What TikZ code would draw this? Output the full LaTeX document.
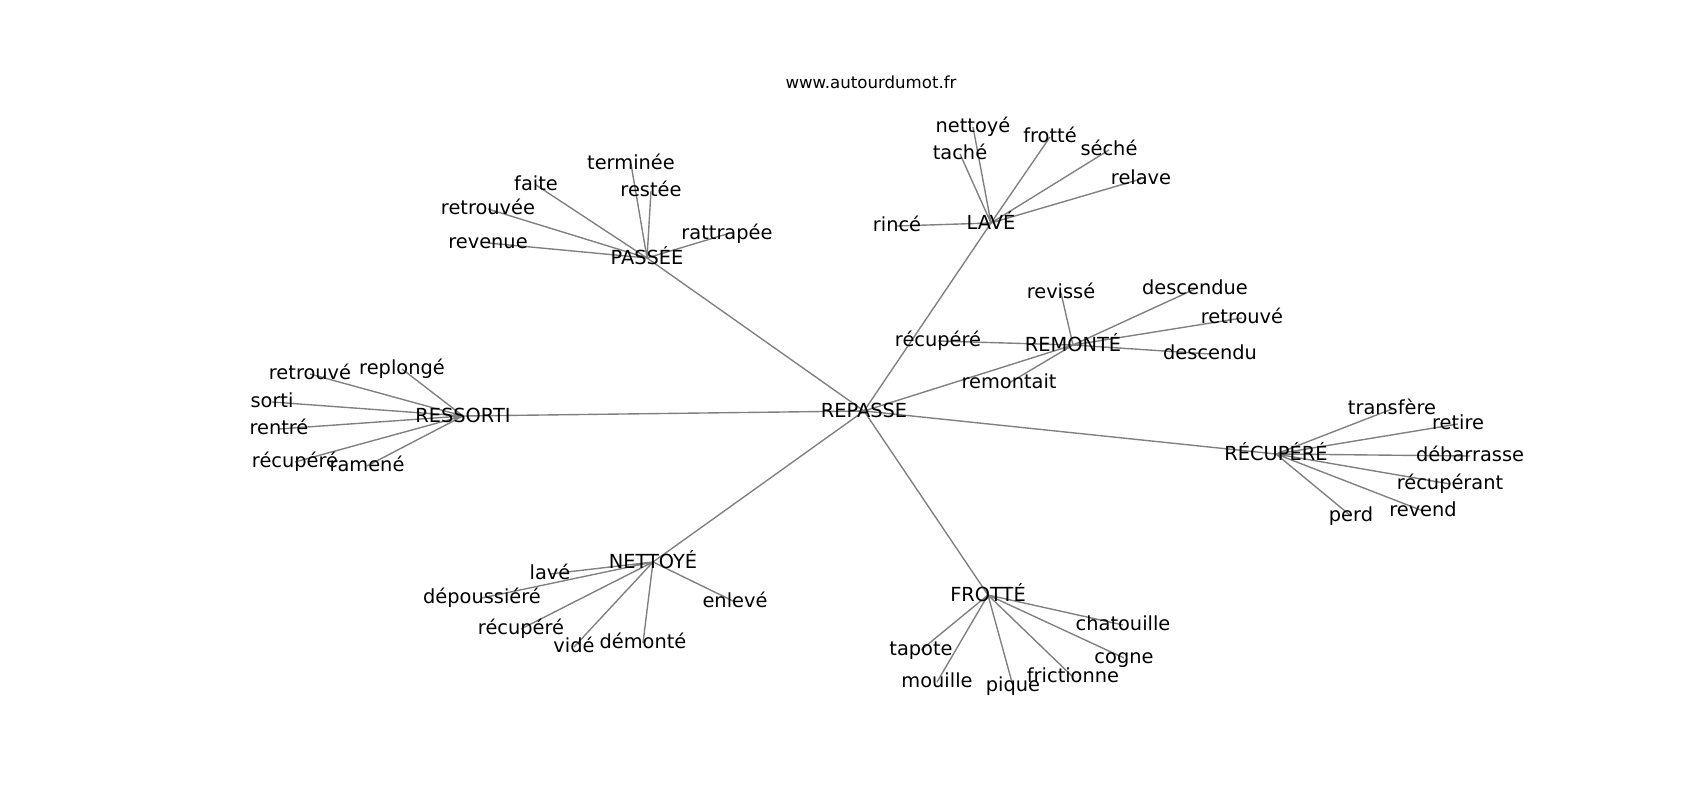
\documentclass[tikz,border=0pt]{standalone}
\usepackage{fontspec}
\setmainfont{DejaVu Sans}
\usetikzlibrary{backgrounds}

\tikzset{
	word/.style={inner sep=0pt,font=\fontsize{14}{16}\selectfont,text height=10.6pt,text depth=3.3pt},
	hub/.style={word,text height=13.2pt},
	edge/.style={draw=gray,line width=1pt}
}

\begin{document}
\begin{tikzpicture}[x=0.01in,y=-0.01in]
	\useasboundingbox (0,-2) rectangle (1700,798);
	\node[anchor=base,font=\fontsize{12}{14}\selectfont] (site) at (871,87) {www.autourdumot.fr};

	% centre
	\node[hub] (repasse) at (864,409) {REPASSE};
	\node[hub] (passee) at (647,256) {PASSÉE};
	\node[hub] (lave) at (991,221) {LAVÉ};
	\node[hub] (remonte) at (1073,343) {REMONTÉ};
	\node[hub] (recupere) at (1276,452) {RÉCUPÉRÉ};
	\node[hub] (ressorti) at (463,414) {RESSORTI};
	\node[hub] (nettoye) at (653,560) {NETTOYÉ};
	\node[hub] (frotte) at (988,593) {FROTTÉ};

	% PASSÉE
	\node[word] (pasterminee) at (631,162) {terminée};
	\node[word] (pasrestee) at (651,189) {restée};
	\node[word] (pasfaite) at (536,183) {faite};
	\node[word] (pasretrouvee) at (488,207) {retrouvée};
	\node[word] (pasrevenue) at (488,241) {revenue};
	\node[word] (pasrattrapee) at (727,232) {rattrapée};

	% LAVÉ
	\node[word] (lavnettoye) at (973,125) {nettoyé};
	\node[word] (lavtache) at (960,152) {taché};
	\node[word] (lavfrotte) at (1050,135) {frotté};
	\node[word] (lavseche) at (1109,148) {séché};
	\node[word] (lavrelave) at (1141,177) {relave};
	\node[word] (lavrince) at (897,224) {rincé};

	% REMONTÉ
	\node[word] (remrevisse) at (1061,291) {revissé};
	\node[word] (remdescendue) at (1195,287) {descendue};
	\node[word] (remretrouve) at (1242,316) {retrouvé};
	\node[word] (remdescendu) at (1210,352) {descendu};
	\node[word] (remrecupere) at (938,339) {récupéré};
	\node[word] (remremontait) at (1009,381) {remontait};

	% RÉCUPÉRÉ
	\node[word] (rectransfere) at (1392,407) {transfère};
	\node[word] (recretire) at (1458,422) {retire};
	\node[word] (recdebarrasse) at (1470,454) {débarrasse};
	\node[word] (recrecuperant) at (1450,482) {récupérant};
	\node[word] (recrevend) at (1423,509) {revend};
	\node[word] (recperd) at (1351,514) {perd};

	% RESSORTI
	\node[word] (resretrouve) at (310,372) {retrouvé};
	\node[word] (resreplonge) at (402,367) {replongé};
	\node[word] (ressorti-) at (272,400) {sorti};
	\node[word] (resrentre) at (279,427) {rentré};
	\node[word] (resrecupere) at (295,460) {récupéré};
	\node[word] (resramene) at (367,464) {ramené};

	% NETTOYÉ
	\node[word] (netlave) at (550,572) {lavé};
	\node[word] (netdepoussiere) at (482,596) {dépoussiéré};
	\node[word] (netrecupere) at (521,627) {récupéré};
	\node[word] (netvide) at (574,645) {vidé};
	\node[word] (netdemonte) at (643,641) {démonté};
	\node[word] (netenleve) at (735,600) {enlevé};

	% FROTTÉ
	\node[word] (frotapote) at (921,648) {tapote};
	\node[word] (fromouille) at (937,680) {mouille};
	\node[word] (fropique) at (1013,684) {pique};
	\node[word] (frofrictionne) at (1073,675) {frictionne};
	\node[word] (frocogne) at (1124,656) {cogne};
	\node[word] (frochatouille) at (1123,623) {chatouille};

	\begin{scope}[on background layer]
	\draw[edge]
		(repasse.center) -- (passee.center)
		(repasse.center) -- (lave.center)
		(repasse.center) -- (remonte.center)
		(repasse.center) -- (recupere.center)
		(repasse.center) -- (ressorti.center)
		(repasse.center) -- (nettoye.center)
		(repasse.center) -- (frotte.center)
		(passee.center) -- (pasterminee.center)
		(passee.center) -- (pasrestee.center)
		(passee.center) -- (pasfaite.center)
		(passee.center) -- (pasretrouvee.center)
		(passee.center) -- (pasrevenue.center)
		(passee.center) -- (pasrattrapee.center)
		(lave.center) -- (lavnettoye.center)
		(lave.center) -- (lavtache.center)
		(lave.center) -- (lavfrotte.center)
		(lave.center) -- (lavseche.center)
		(lave.center) -- (lavrelave.center)
		(lave.center) -- (lavrince.center)
		(remonte.center) -- (remrevisse.center)
		(remonte.center) -- (remdescendue.center)
		(remonte.center) -- (remretrouve.center)
		(remonte.center) -- (remdescendu.center)
		(remonte.center) -- (remrecupere.center)
		(remonte.center) -- (remremontait.center)
		(recupere.center) -- (rectransfere.center)
		(recupere.center) -- (recretire.center)
		(recupere.center) -- (recdebarrasse.center)
		(recupere.center) -- (recrecuperant.center)
		(recupere.center) -- (recrevend.center)
		(recupere.center) -- (recperd.center)
		(ressorti.center) -- (resretrouve.center)
		(ressorti.center) -- (resreplonge.center)
		(ressorti.center) -- (ressorti-.center)
		(ressorti.center) -- (resrentre.center)
		(ressorti.center) -- (resrecupere.center)
		(ressorti.center) -- (resramene.center)
		(nettoye.center) -- (netlave.center)
		(nettoye.center) -- (netdepoussiere.center)
		(nettoye.center) -- (netrecupere.center)
		(nettoye.center) -- (netvide.center)
		(nettoye.center) -- (netdemonte.center)
		(nettoye.center) -- (netenleve.center)
		(frotte.center) -- (frotapote.center)
		(frotte.center) -- (fromouille.center)
		(frotte.center) -- (fropique.center)
		(frotte.center) -- (frofrictionne.center)
		(frotte.center) -- (frocogne.center)
		(frotte.center) -- (frochatouille.center)
		;
	\end{scope}
\end{tikzpicture}
\end{document}
